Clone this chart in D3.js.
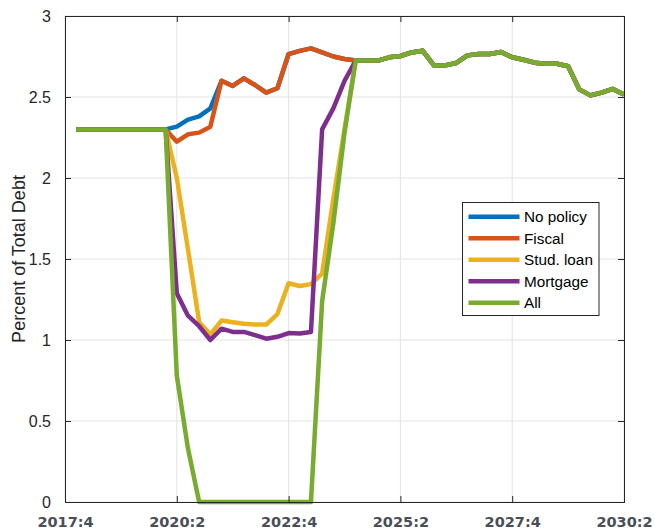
<!DOCTYPE html>
<html>
<head>
<meta charset="utf-8">
<script src="https://cdn.jsdelivr.net/npm/d3@7"></script>
<style>
  html, body { margin: 0; padding: 0; background: #fff; }
  svg { display: block; }
</style>
</head>
<body>
<svg id="chart" width="655" height="531"></svg>
<script>
// Quarters on the x axis (2017:4 through 2030:2)
const quarters = [
  "2017:4",
  "2018:1","2018:2","2018:3","2018:4",
  "2019:1","2019:2","2019:3","2019:4",
  "2020:1","2020:2","2020:3","2020:4",
  "2021:1","2021:2","2021:3","2021:4",
  "2022:1","2022:2","2022:3","2022:4",
  "2023:1","2023:2","2023:3","2023:4",
  "2024:1","2024:2","2024:3","2024:4",
  "2025:1","2025:2","2025:3","2025:4",
  "2026:1","2026:2","2026:3","2026:4",
  "2027:1","2027:2","2027:3","2027:4",
  "2028:1","2028:2","2028:3","2028:4",
  "2029:1","2029:2","2029:3","2029:4",
  "2030:1","2030:2"
];
// Series begin in 2018:1
const seriesQuarters = quarters.slice(1);

const xTickLabels = ["2017:4", "2020:2", "2022:4", "2025:2", "2027:4", "2030:2"];
const yTickValues = [0, 0.5, 1, 1.5, 2, 2.5, 3];

// Percent of total debt, 2018:1 – 2030:2
const noPolicy = [
  2.3, 2.3, 2.3, 2.3, 2.3, 2.3, 2.3, 2.3, 2.3,
  2.317, 2.36, 2.38, 2.43, 2.6, 2.568, 2.615, 2.574, 2.527, 2.554,
  2.765, 2.785, 2.80, 2.775, 2.75, 2.735, 2.725,
  2.725, 2.725, 2.745, 2.753, 2.775, 2.785, 2.695, 2.695, 2.71, 2.757,
  2.765, 2.765, 2.778, 2.745, 2.73, 2.712, 2.705, 2.705, 2.69, 2.547,
  2.51, 2.527, 2.55, 2.515
];
const fiscal = [
  2.3, 2.3, 2.3, 2.3, 2.3, 2.3, 2.3, 2.3, 2.3,
  2.224, 2.27, 2.28, 2.317, 2.6, 2.568, 2.615, 2.574, 2.527, 2.554,
  2.765, 2.785, 2.80, 2.775, 2.75, 2.735, 2.725,
  2.725, 2.725, 2.745, 2.753, 2.775, 2.785, 2.695, 2.695, 2.71, 2.757,
  2.765, 2.765, 2.778, 2.745, 2.73, 2.712, 2.705, 2.705, 2.69, 2.547,
  2.51, 2.527, 2.55, 2.515
];
const studLoan = [
  2.3, 2.3, 2.3, 2.3, 2.3, 2.3, 2.3, 2.3, 2.3,
  2.0, 1.56, 1.11, 1.035, 1.12, 1.11, 1.10, 1.095, 1.095, 1.16,
  1.35, 1.333, 1.345, 1.41, 1.87, 2.3, 2.725,
  2.725, 2.725, 2.745, 2.753, 2.775, 2.785, 2.695, 2.695, 2.71, 2.757,
  2.765, 2.765, 2.778, 2.745, 2.73, 2.712, 2.705, 2.705, 2.69, 2.547,
  2.51, 2.527, 2.55, 2.515
];
const mortgage = [
  2.3, 2.3, 2.3, 2.3, 2.3, 2.3, 2.3, 2.3, 2.3,
  1.288, 1.15, 1.085, 1.0, 1.07, 1.05, 1.05, 1.03, 1.008, 1.02,
  1.043, 1.04, 1.05, 2.3, 2.43, 2.6, 2.725,
  2.725, 2.725, 2.745, 2.753, 2.775, 2.785, 2.695, 2.695, 2.71, 2.757,
  2.765, 2.765, 2.778, 2.745, 2.73, 2.712, 2.705, 2.705, 2.69, 2.547,
  2.51, 2.527, 2.55, 2.515
];
const allPolicies = [
  2.3, 2.3, 2.3, 2.3, 2.3, 2.3, 2.3, 2.3, 2.3,
  0.78, 0.33, 0, 0, 0, 0, 0, 0, 0, 0,
  0, 0, 0, 1.24, 1.72, 2.28, 2.725,
  2.725, 2.725, 2.745, 2.753, 2.775, 2.785, 2.695, 2.695, 2.71, 2.757,
  2.765, 2.765, 2.778, 2.745, 2.73, 2.712, 2.705, 2.705, 2.69, 2.547,
  2.51, 2.527, 2.55, 2.515
];

const seriesNames = ["No policy", "Fiscal", "Stud. loan", "Mortgage", "All"];
const seriesValues = [noPolicy, fiscal, studLoan, mortgage, allPolicies];
const seriesColors = ["#0072BD", "#D95319", "#EDB120", "#7E2F8E", "#77AC30"];

// ---- layout ----
const plot = { left: 65, right: 624, top: 16, bottom: 502 };
const svg = d3.select("#chart");

const x = d3.scalePoint().domain(quarters).range([plot.left, plot.right]).padding(0);
const y = d3.scaleLinear().domain([0, 3]).range([plot.bottom, plot.top]);

const axisColor = "#262626";
const gridColor = "#e3e3e3";

// grid
const grid = svg.append("g");
grid.selectAll("line.gx").data(xTickLabels).join("line")
  .attr("x1", d => x(d)).attr("x2", d => x(d))
  .attr("y1", plot.top).attr("y2", plot.bottom)
  .attr("stroke", gridColor).attr("stroke-width", 1);
grid.selectAll("line.gy").data(yTickValues).join("line")
  .attr("x1", plot.left).attr("x2", plot.right)
  .attr("y1", d => y(d)).attr("y2", d => y(d))
  .attr("stroke", gridColor).attr("stroke-width", 1);

// series lines
const line = d3.line()
  .x((d, i) => x(seriesQuarters[i]))
  .y(d => y(d));

svg.append("g")
  .selectAll("path")
  .data(seriesValues)
  .join("path")
  .attr("d", d => line(d))
  .attr("fill", "none")
  .attr("stroke", (d, i) => seriesColors[i])
  .attr("stroke-width", 4.5)
  .attr("stroke-linejoin", "round")
  .attr("stroke-linecap", "butt");

// axes: left and bottom with labels, top and right ticks only (inward ticks)
const tickLen = 6;
const yAxis = d3.axisLeft(y).tickValues(yTickValues).tickSizeInner(-tickLen).tickSizeOuter(0)
  .tickPadding(8 + tickLen).tickFormat(d3.format("~g"));
const gy = svg.append("g").attr("transform", `translate(${plot.left},0)`).call(yAxis);
gy.select(".domain").remove();
gy.selectAll("line").attr("stroke", axisColor);
gy.selectAll("text")
  .attr("fill", axisColor)
  .attr("font-family", "'Liberation Sans', Arial, sans-serif")
  .attr("font-size", 16)
  .attr("dy", "0.36em");

const yAxisR = d3.axisRight(y).tickValues(yTickValues).tickSizeInner(-tickLen).tickSizeOuter(0).tickFormat("");
const gyr = svg.append("g").attr("transform", `translate(${plot.right},0)`).call(yAxisR);
gyr.select(".domain").remove();
gyr.selectAll("line").attr("stroke", axisColor);

const xAxis = d3.axisBottom(x).tickValues(xTickLabels).tickSizeInner(-tickLen).tickSizeOuter(0)
  .tickPadding(0);
const gx = svg.append("g").attr("transform", `translate(0,${plot.bottom})`).call(xAxis);
gx.select(".domain").remove();
gx.selectAll("line").attr("stroke", axisColor);
gx.selectAll("text")
  .attr("fill", "#4a4e57")
  .attr("font-family", "'DejaVu Sans', sans-serif")
  .attr("font-weight", "bold")
  .attr("font-size", 14.5)
  .attr("y", 25)
  .attr("dy", 0);

const xAxisT = d3.axisTop(x).tickValues(xTickLabels).tickSizeInner(-tickLen).tickSizeOuter(0).tickFormat("");
const gxt = svg.append("g").attr("transform", `translate(0,${plot.top})`).call(xAxisT);
gxt.select(".domain").remove();
gxt.selectAll("line").attr("stroke", axisColor);

// box
svg.append("rect")
  .attr("x", plot.left + 0.5).attr("y", plot.top + 0.5)
  .attr("width", plot.right - plot.left).attr("height", plot.bottom - plot.top)
  .attr("fill", "none").attr("stroke", axisColor).attr("stroke-width", 1);

// y axis title
svg.append("text")
  .attr("transform", `translate(18.5,${(plot.top + plot.bottom) / 2}) rotate(-90)`)
  .attr("text-anchor", "middle")
  .attr("dy", "0.36em")
  .attr("fill", axisColor)
  .attr("font-family", "'Liberation Sans', Arial, sans-serif")
  .attr("font-size", 18)
  .text("Percent of Total Debt");

// legend
const legend = svg.append("g");
legend.append("rect")
  .attr("x", 462.5).attr("y", 202.5)
  .attr("width", 136.5).attr("height", 113)
  .attr("fill", "#fff").attr("stroke", axisColor).attr("stroke-width", 1);
const rows = legend.selectAll("g.row").data(seriesNames).join("g")
  .attr("transform", (d, i) => `translate(0,${216.8 + i * 21.5})`);
rows.append("line")
  .attr("x1", 468.5).attr("x2", 519.5).attr("y1", 0).attr("y2", 0)
  .attr("stroke", (d, i) => seriesColors[i]).attr("stroke-width", 4.5);
rows.append("text")
  .attr("x", 524).attr("dy", "0.36em")
  .attr("fill", "#000")
  .attr("font-family", "'Liberation Sans', Arial, sans-serif")
  .attr("font-size", 15.3)
  .text(d => d);
</script>
</body>
</html>
